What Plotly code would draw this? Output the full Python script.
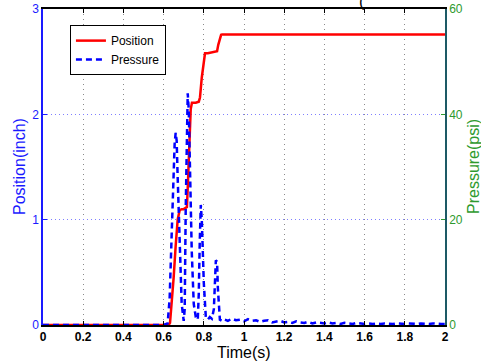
import plotly.graph_objects as go

# ---- data ----
t_pos = [0.0, 0.625, 0.632, 0.64, 0.65, 0.66, 0.67, 0.68, 0.69, 0.70, 0.716,
         0.72, 0.725, 0.73, 0.735, 0.741, 0.75, 0.76, 0.775, 0.781, 0.79,
         0.80, 0.806, 0.82, 0.84, 0.866, 0.872, 0.88, 0.886, 0.891, 2.0]
position = [0.0, 0.0, 0.02, 0.18, 0.45, 0.75, 1.0, 1.09, 1.10, 1.10, 1.12,
            1.30, 1.58, 1.86, 2.05, 2.11, 2.11, 2.11, 2.12, 2.16, 2.35,
            2.52, 2.58, 2.58, 2.59, 2.60, 2.66, 2.73, 2.755, 2.757, 2.757]

t_pre = [0.0, 0.60, 0.62, 0.63, 0.64, 0.65, 0.655, 0.66, 0.665, 0.67, 0.68, 0.69,
         0.70, 0.705, 0.71, 0.715, 0.72, 0.725, 0.73, 0.74, 0.75, 0.76,
         0.77, 0.775, 0.78, 0.785, 0.79, 0.80, 0.81, 0.82, 0.83, 0.84,
         0.85, 0.855, 0.86, 0.866, 0.87, 0.88, 0.89]
pressure = [0.0, 0.0, 0.3, 5.0, 17.0, 30.0, 34.5, 36.5, 35.0, 28.0, 14.0, 4.0,
            0.8, 3.0, 22.0, 38.0, 44.0, 41.0, 31.0, 14.0, 4.0, 1.5,
            1.0, 6.0, 16.0, 22.8, 20.0, 8.0, 1.5, 1.0, 1.5, 1.2,
            3.0, 8.0, 12.3, 12.0, 7.0, 1.0, 0.8]

# low-level residual pressure after the last pulse (every 0.02 s from 0.90 s)
t_tail = [0.90 + 0.02 * i for i in range(56)]
p_tail = [1.1, 0.8, 1.2, 0.9, 1.0, 0.7, 1.1, 0.8, 0.9, 0.6,
          0.8, 0.9, 0.5, 0.7, 0.8, 0.5, 0.6, 0.4, 0.7, 0.5,
          0.4, 0.6, 0.3, 0.5, 0.4, 0.3, 0.5, 0.3, 0.4, 0.2,
          0.4, 0.3, 0.2, 0.4, 0.3, 0.2, 0.3, 0.2, 0.3, 0.2,
          0.3, 0.2, 0.2, 0.3, 0.2, 0.2, 0.3, 0.2, 0.2, 0.3,
          0.2, 0.2, 0.3, 0.2, 0.2, 0.2]

x_ticks = [0, 0.2, 0.4, 0.6, 0.8, 1.0, 1.2, 1.4, 1.6, 1.8, 2.0]
x_ticklabels = ["0", "0.2", "0.4", "0.6", "0.8", "1", "1.2", "1.4", "1.6", "1.8", "2"]
y_ticks = [0, 1, 2, 3]
y2_ticks = [0, 20, 40, 60]

FONT = "Liberation Sans, Arial, Helvetica, sans-serif"
BLUE = "#1a1aff"
GREEN = "#2e9a2e"
TEAL = "#1d5a66"

fig = go.Figure()
fig.add_trace(go.Scatter(x=t_pos, y=position, mode="lines", name="Position",
                         line=dict(color="#ff0000", width=2.5), yaxis="y"))
fig.add_trace(go.Scatter(x=t_pre + t_tail, y=pressure + p_tail, mode="lines",
                         name="Pressure",
                         line=dict(color="#0000ff", width=2.5, dash="6px,4px"),
                         yaxis="y2"))

fig.update_layout(
    width=481, height=364,
    margin=dict(l=43, r=36, t=9, b=39, autoexpand=False),
    paper_bgcolor="white", plot_bgcolor="white",
    font=dict(family=FONT, size=12, color="black"),
    showlegend=True,
    legend=dict(x=0.067, y=0.949, xanchor="left", yanchor="top",
                bgcolor="white", bordercolor="black", borderwidth=1,
                font=dict(size=12, color="black"),
                tracegroupgap=0, itemwidth=30),
    xaxis=dict(range=[0, 2], tickvals=x_ticks, ticktext=x_ticklabels,
               ticks="inside", ticklen=4, tickcolor="black",
               showline=True, linecolor="black", linewidth=1.5, mirror="ticks",
               showgrid=True, gridcolor="#8a8a8a", griddash="1px,4px", gridwidth=1,
               zeroline=False, automargin=False,
               tickfont=dict(size=12, color="black", family=FONT, weight="bold")),
    yaxis=dict(range=[0, 3], tickvals=y_ticks, ticks="inside", ticklen=4,
               tickcolor=BLUE, showline=True, linecolor=BLUE, linewidth=1.5,
               showgrid=True, gridcolor="#7f7fff", griddash="1px,3px", gridwidth=1,
               zeroline=False, automargin=False, tickfont=dict(size=12, color=BLUE)),
    yaxis2=dict(range=[0, 60], tickvals=y2_ticks, ticks="inside", ticklen=4,
                tickcolor=GREEN, overlaying="y", side="right",
                showline=True, linecolor=TEAL, linewidth=1.5,
                showgrid=False, zeroline=False, automargin=False,
                tickfont=dict(size=12, color=GREEN)),
    annotations=[
        dict(text="Time(s)", xref="paper", yref="paper", x=0.5, y=-0.055,
             xanchor="center", yanchor="top", showarrow=False,
             font=dict(size=16, color="black")),
        dict(text="Position(inch)", xref="paper", yref="paper", x=-0.0597, y=0.5,
             xanchor="center", yanchor="middle", textangle=-90, showarrow=False,
             font=dict(size=16, color=BLUE)),
        dict(text="Pressure(psi)", xref="paper", yref="paper", x=1.0697, y=0.5,
             xanchor="center", yanchor="middle", textangle=-90, showarrow=False,
             font=dict(size=16, color=GREEN)),
        dict(text="(", xref="paper", yref="paper", x=0.7935, y=1.0253,
             xanchor="center", yanchor="middle", showarrow=False,
             font=dict(size=16, color="black")),
    ],
)

# remove the default 8px page margin so the 481x364 figure fills the window
fig.write_html("out.html", config={"displayModeBar": False},
               post_script="document.body.style.margin='0';")
